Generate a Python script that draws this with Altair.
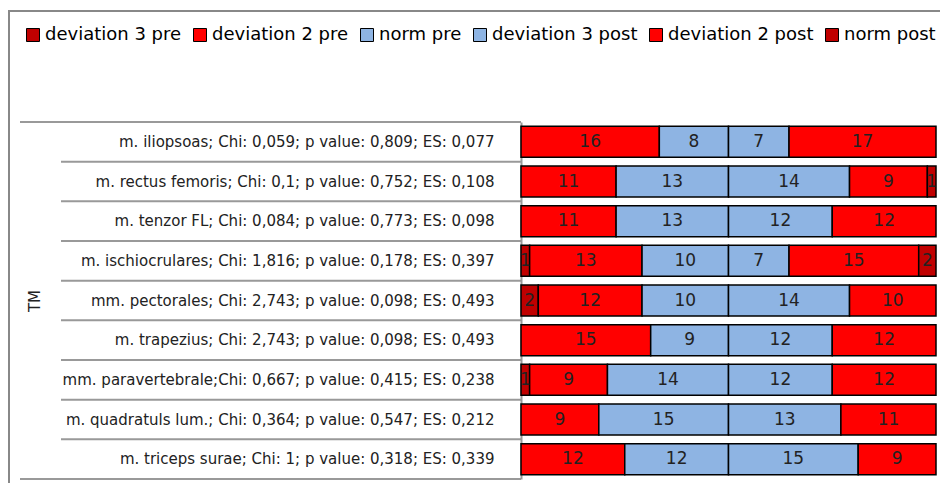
import altair as alt
import pandas as pd

muscles = [
    "m. iliopsoas; Chi: 0,059; p value: 0,809; ES: 0,077",
    "m. rectus femoris; Chi: 0,1; p value: 0,752; ES: 0,108",
    "m. tenzor FL; Chi: 0,084; p value: 0,773; ES: 0,098",
    "m. ischiocrulares; Chi: 1,816; p value: 0,178; ES: 0,397",
    "mm. pectorales; Chi: 2,743; p value: 0,098; ES: 0,493",
    "m. trapezius; Chi: 2,743; p value: 0,098; ES: 0,493",
    "mm. paravertebrale;Chi: 0,667; p value: 0,415; ES: 0,238",
    "m. quadratuls lum.; Chi: 0,364; p value: 0,547; ES: 0,212",
    "m. triceps surae; Chi: 1; p value: 0,318; ES: 0,339",
]

series = ["deviation 3 pre", "deviation 2 pre", "norm pre",
          "deviation 3 post", "deviation 2 post", "norm post"]
colors = ["#C00000", "#FF0000", "#8EB4E3", "#8EB4E3", "#FF0000", "#C00000"]

dev3_pre = [0, 0, 0, 1, 2, 0, 1, 0, 0]
dev2_pre = [16, 11, 11, 13, 12, 15, 9, 9, 12]
norm_pre = [8, 13, 13, 10, 10, 9, 14, 15, 12]
dev3_post = [7, 14, 12, 7, 14, 12, 12, 13, 15]
dev2_post = [17, 9, 12, 15, 10, 12, 12, 11, 9]
norm_post = [0, 1, 0, 2, 0, 0, 0, 0, 0]

values_by_series = [dev3_pre, dev2_pre, norm_pre, dev3_post, dev2_post, norm_post]

rows = []
for si, (s, vals) in enumerate(zip(series, values_by_series)):
    for m, v in zip(muscles, vals):
        if v > 0:
            rows.append({"muscle": m, "series": s, "order": si, "value": v})
df = pd.DataFrame(rows)

W, H = 415, 357
FONT = "DejaVu Sans"

y_scale = alt.Scale(paddingInner=0, paddingOuter=0)

base = alt.Chart(df).transform_stack(
    stack="value", groupby=["muscle"], as_=["x0", "x1"],
    sort=[alt.SortField("order", order="ascending")],
)

bars = base.mark_bar(size=31, stroke="black", strokeWidth=1.5).encode(
    x=alt.X("x0:Q", scale=alt.Scale(domain=[0, 48], nice=False, zero=True), axis=None),
    x2="x1:Q",
    y=alt.Y(
        "muscle:N", sort=muscles, scale=y_scale,
        axis=alt.Axis(
            title="TM", domain=True, domainColor="#999999", domainWidth=2,
            ticks=False, labelPadding=27, labelFont=FONT, labelFontSize=15,
            labelColor="#222222", labelLimit=0,
            titleFont=FONT, titleFontSize=15, titleFontWeight="normal",
            titleColor="#222222", titleX=-487, titleY=H / 2, titleAngle=270,
            titleAlign="center", titleBaseline="middle",
        ),
    ),
    color=alt.Color(
        "series:N",
        scale=alt.Scale(domain=series, range=colors),
        legend=alt.Legend(
            orient="none", legendX=-497, legendY=-96, direction="horizontal",
            columns=6, title=None, symbolType="square", symbolSize=169,
            symbolStrokeColor="black", symbolStrokeWidth=1, symbolOpacity=1,
            labelFont=FONT, labelFontSize=18, labelColor="black",
            labelOffset=3, columnPadding=9, labelLimit=0,
        ),
    ),
)

labels = base.transform_calculate(mid="(datum.x0 + datum.x1) / 2").mark_text(
    font=FONT, fontSize=17, color="#222222"
).encode(
    x=alt.X("mid:Q"),
    y=alt.Y("muscle:N", sort=muscles),
    text=alt.Text("value:Q"),
)

separators = alt.Chart(pd.DataFrame({"muscle": muscles[1:]})).mark_rule(
    color="#999999", strokeWidth=2
).encode(
    y=alt.Y("muscle:N", sort=muscles, bandPosition=0),
    x=alt.value(-460), x2=alt.value(0),
)

frame_df = pd.DataFrame({"k": [0]})
top_line = alt.Chart(frame_df).mark_rule(color="#999999", strokeWidth=2).encode(
    x=alt.value(-501), x2=alt.value(0), y=alt.value(0)
)
bottom_line = alt.Chart(frame_df).mark_rule(color="#999999", strokeWidth=2).encode(
    x=alt.value(-501), x2=alt.value(0), y=alt.value(H)
)
border_left = alt.Chart(frame_df).mark_rule(color="#888888", strokeWidth=2).encode(
    x=alt.value(-512), y=alt.value(-112), y2=alt.value(H + 6)
)
border_top = alt.Chart(frame_df).mark_rule(color="#888888", strokeWidth=2).encode(
    x=alt.value(-512), x2=alt.value(420), y=alt.value(-111)
)

chart = alt.layer(
    border_left, border_top, top_line, bottom_line, separators, bars, labels
).properties(
    width=W, height=H,
    autosize=alt.AutoSizeParams(type="none"),
    padding={"left": 513, "top": 114, "right": 4, "bottom": 4},
).configure_view(stroke=None)

chart.save("out.html", embed_options={"renderer": "svg", "actions": False})
